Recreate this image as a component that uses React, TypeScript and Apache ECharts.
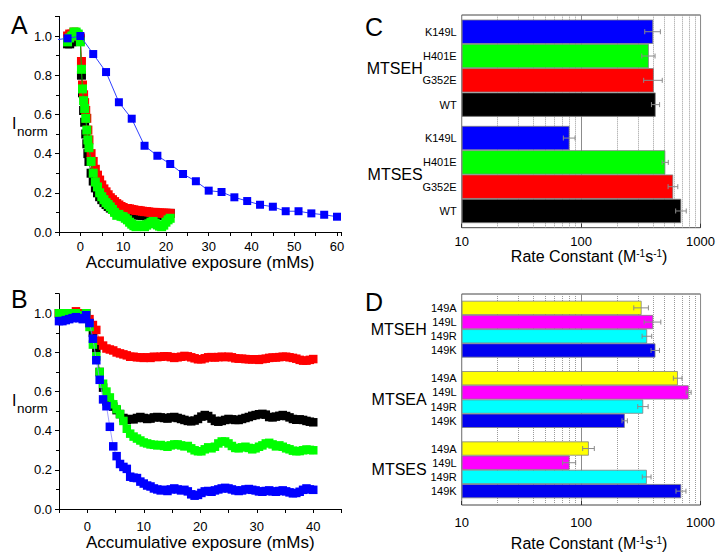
import React, { useEffect, useRef } from 'react';
import * as echarts from 'echarts';

const FONT = '"Liberation Sans", Arial, Helvetica, sans-serif';

// ---------- Panel A ----------
const xA = [-3, -2.5, -2, -1.5, -1, -0.5, 0, 0.25, 0.5, 0.75, 1, 1.25, 1.5, 1.75, 2,
  2.5, 3, 3.5, 4, 4.5, 5, 5.5, 6, 6.5, 7, 7.5, 8, 8.5, 9, 9.5, 10, 10.5, 11, 11.5, 12,
  12.5, 13, 13.5, 14, 14.5, 15, 15.5, 16, 16.5, 17, 17.5, 18, 18.5, 19, 19.5, 20, 20.5, 21];
const redA = [1.0, 1.01, 1.01, 1.02, 1.01, 1.0, 0.99, 0.87, 0.75, 0.7, 0.66, 0.62, 0.58, 0.52, 0.47,
  0.4, 0.36, 0.32, 0.29, 0.265, 0.24, 0.22, 0.205, 0.19, 0.175,
  0.165, 0.155, 0.145, 0.138, 0.13, 0.125, 0.12, 0.12, 0.118, 0.115,
  0.113, 0.11, 0.11, 0.108, 0.106, 0.104, 0.104, 0.102, 0.1, 0.1,
  0.1, 0.098, 0.097, 0.097, 0.096, 0.096, 0.095, 0.095];
const blackA = [0.96, 0.96, 0.97, 0.99, 1.0, 0.99, 0.98, 0.8, 0.71, 0.62, 0.56, 0.5, 0.45, 0.4, 0.36,
  0.3, 0.26, 0.225, 0.2, 0.18, 0.165, 0.15, 0.14, 0.13, 0.122,
  0.115, 0.108, 0.104, 0.1, 0.098, 0.096, 0.095, 0.093, 0.092, 0.09,
  0.089, 0.088, 0.087, 0.086, 0.085, 0.084, 0.082, 0.08, 0.08, 0.082,
  0.084, 0.085, 0.086, 0.088, 0.09, 0.092, 0.094, 0.095];
const greenA = [0.97, 0.99, 1.0, 1.02, 1.02, 1.01, 0.97, 0.83, 0.73, 0.67, 0.63, 0.58, 0.52, 0.47, 0.43,
  0.36, 0.3, 0.255, 0.23, 0.2, 0.18, 0.165, 0.15, 0.14, 0.128,
  0.115, 0.1, 0.085, 0.09, 0.08, 0.078, 0.07, 0.062, 0.05, 0.04,
  0.032, 0.027, 0.03, 0.036, 0.03, 0.027, 0.035, 0.042, 0.05, 0.054,
  0.045, 0.036, 0.03, 0.027, 0.035, 0.05, 0.062, 0.07];
const xBlueA = [-6, -3, 0, 3, 6, 9, 12, 15, 18, 21, 24, 27, 30, 33, 36, 39, 42, 45, 48, 51, 54, 57, 60];
const blueA = [0.98, 0.988, 1.0, 0.908, 0.816, 0.662, 0.578, 0.44, 0.389, 0.347, 0.296, 0.259, 0.211,
  0.204, 0.177, 0.158, 0.139, 0.129, 0.106, 0.106, 0.095, 0.088, 0.078];

// ---------- Panel B ----------
const xB = [-5, -4.4, -3.8, -3.2, -2.6, -2, -1.4, -0.8, -0.2, 0.4,
  1, 1.6, 2.2, 2.8, 3.4, 4, 4.6, 5.2, 5.8, 6.4,
  7, 7.6, 8.2, 8.8, 9.4, 10, 10.6, 11.2, 11.8, 12.4,
  13, 13.6, 14.2, 14.8, 15.4, 16, 16.6, 17.2, 17.8, 18.4,
  19, 19.6, 20.2, 20.8, 21.4, 22, 22.6, 23.2, 23.8, 24.4,
  25, 25.6, 26.2, 26.8, 27.4, 28, 28.6, 29.2, 29.8, 30.4,
  31, 31.6, 32.2, 32.8, 33.4, 34, 34.6, 35.2, 35.8, 36.4,
  37, 37.6, 38.2, 38.8, 39.4, 40];
const redB = [1.0, 1.0, 1.0, 1.0, 1.0, 1.01, 1.0, 1.0, 1.0, 0.97,
  0.94, 0.915, 0.86, 0.835, 0.82, 0.815, 0.81, 0.8, 0.795, 0.79,
  0.785, 0.778, 0.778, 0.775, 0.775, 0.772, 0.775, 0.772, 0.778, 0.776,
  0.778, 0.78, 0.78, 0.776, 0.772, 0.775, 0.778, 0.782, 0.78, 0.775,
  0.77, 0.765, 0.765, 0.77, 0.775, 0.776, 0.774, 0.776, 0.778, 0.776,
  0.778, 0.775, 0.77, 0.768, 0.768, 0.766, 0.765, 0.764, 0.765, 0.762,
  0.766, 0.768, 0.772, 0.774, 0.774, 0.776, 0.778, 0.778, 0.775, 0.772,
  0.768, 0.762, 0.758, 0.758, 0.762, 0.766];
const blackB = [1.0, 1.0, 1.0, 1.0, 1.0, 1.0, 1.0, 1.0, 1.0, 0.95,
  0.9, 0.82, 0.7, 0.62, 0.55, 0.54, 0.523, 0.505, 0.485, 0.465,
  0.455, 0.46, 0.458, 0.465, 0.47, 0.465, 0.46, 0.462, 0.468, 0.47,
  0.468, 0.465, 0.462, 0.468, 0.47, 0.465, 0.46, 0.455, 0.45, 0.448,
  0.452, 0.46, 0.472, 0.48, 0.475, 0.462, 0.45, 0.446, 0.45, 0.455,
  0.46, 0.458, 0.455, 0.455, 0.46, 0.465, 0.47, 0.476, 0.48, 0.484,
  0.486, 0.482, 0.47, 0.468, 0.472, 0.476, 0.48, 0.475, 0.468, 0.46,
  0.456, 0.458, 0.455, 0.45, 0.446, 0.443];
const greenB = [1.0, 1.0, 1.0, 1.0, 1.0, 1.0, 0.99, 0.99, 1.0, 0.93,
  0.84, 0.78, 0.7, 0.64, 0.6, 0.57, 0.535, 0.51, 0.485, 0.45,
  0.41, 0.385, 0.37, 0.36, 0.35, 0.34, 0.335, 0.33, 0.328, 0.325,
  0.327, 0.322, 0.318, 0.325, 0.33, 0.33, 0.325, 0.32, 0.322, 0.31,
  0.3, 0.295, 0.295, 0.305, 0.315, 0.31, 0.318, 0.335, 0.345, 0.345,
  0.335, 0.322, 0.312, 0.31, 0.315, 0.318, 0.312, 0.305, 0.31, 0.318,
  0.325, 0.335, 0.338, 0.33, 0.32, 0.325, 0.318, 0.31, 0.305, 0.298,
  0.295, 0.296, 0.3, 0.304, 0.302, 0.3];
const blueB = [0.96, 0.96, 0.965, 0.97, 0.975, 0.98, 0.975, 0.97, 0.99, 0.95,
  0.87, 0.76, 0.66, 0.56, 0.525, 0.42, 0.32, 0.27, 0.23, 0.215,
  0.205, 0.165, 0.16, 0.158, 0.14, 0.13, 0.12, 0.115, 0.105, 0.1,
  0.095, 0.098, 0.092, 0.1, 0.105, 0.1, 0.095, 0.098, 0.09, 0.075,
  0.068, 0.072, 0.082, 0.09, 0.092, 0.088, 0.095, 0.1, 0.105, 0.108,
  0.105, 0.1, 0.095, 0.092, 0.095, 0.1, 0.102, 0.098, 0.095, 0.09,
  0.088, 0.092, 0.095, 0.09, 0.088, 0.092, 0.095, 0.09, 0.085, 0.08,
  0.082, 0.088, 0.098, 0.105, 0.1, 0.098];

// ---------- Panel C ----------
const catC = ['MTSES', 'MTSEH'];
const mutC = ['K149L', 'H401E', 'G352E', 'WT'];
const colC = ['#0000ff', '#00ff00', '#ff0000', '#000000'];
const valC = [[80, 401], [507, 369], [590, 406], [689, 421]];
const errC = [[9, 60], [30, 47], [55, 72], [70, 33]];

// ---------- Panel D ----------
const catD = ['MTSES', 'MTSEA', 'MTSEH'];
const mutD = ['149A', '149L', '149R', '149K'];
const colD = ['#ffff00', '#ff00ff', '#00ffff', '#0000f0'];
const valD = [[116, 646, 321], [80, 796, 401], [355, 331, 357], [689, 232, 419]];
const errD = [[13, 54, 45], [10, 38, 64], [30, 33, 33], [66, 12, 34]];

const minorGrid = [20, 30, 40, 50, 60, 70, 80, 90, 200, 300, 400, 500, 600, 700, 800, 900];

const pts = (xs: number[], ys: number[]) => xs.map((x, i) => [x, ys[i]]);

const markSeries = (name: string, xs: number[], ys: number[], color: string, axis: number,
  size: number, lineColor: string, lineWidth: number, z: number) => ({
  type: 'line', name, xAxisIndex: axis, yAxisIndex: axis, data: pts(xs, ys),
  symbol: 'rect', symbolSize: size, showSymbol: true, clip: true,
  itemStyle: { color }, lineStyle: { color: lineColor, width: lineWidth }, z,
});

const valueXAxis = (grid: number, max: number, nameGap: number, labelMargin: number) => ({
  type: 'value', gridIndex: grid, min: -5, max, interval: 5,
  axisLine: { show: true, onZero: false, lineStyle: { color: '#000', width: 1 } },
  axisTick: { show: true, length: 4, lineStyle: { color: '#000' } },
  axisLabel: {
    fontSize: 13, fontFamily: FONT, color: '#000', margin: labelMargin,
    formatter: (v: number) => (Math.round(v) % 10 === 0 && Math.abs(v - Math.round(v)) < 1e-6 ? String(Math.round(v)) : ''),
  },
  splitLine: { show: false },
  name: 'Accumulative exposure (mMs)', nameLocation: 'middle', nameGap,
  nameTextStyle: { fontSize: 17, fontFamily: FONT, color: '#000' },
});

const valueYAxis = (grid: number) => ({
  type: 'value', gridIndex: grid, min: 0, max: 1.1, interval: 0.2,
  axisLine: { show: true, onZero: false, lineStyle: { color: '#000', width: 1 } },
  axisTick: { show: true, length: 4, lineStyle: { color: '#000' } },
  minorTick: { show: true, splitNumber: 2, length: 3, lineStyle: { color: '#000' } },
  axisLabel: {
    fontSize: 13, fontFamily: FONT, color: '#000', margin: 7,
    formatter: (v: number) => (Math.round(v * 10) % 2 === 0 ? v.toFixed(1) : ''),
  },
  splitLine: { show: false },
});

const logXAxis = (grid: number, labelMargin: number, nameGap: number) => ({
  type: 'log', logBase: 10, gridIndex: grid, min: 10, max: 1000, startValue: 10,
  axisLine: { show: false },
  axisTick: { show: true, inside: true, length: 4, lineStyle: { color: '#333' } },
  axisLabel: { fontSize: 13, fontFamily: FONT, color: '#000', margin: labelMargin, formatter: (v: number) => String(Math.round(v)) },
  splitLine: { show: true, lineStyle: { color: '#8c8c8c', width: 1 } },
  name: 'Rate Constant (M{sup|-1}s{sup|-1})', nameLocation: 'middle', nameGap,
  nameTextStyle: {
    fontSize: 16, fontFamily: FONT, color: '#000', padding: [0, 0, 0, 16],
    rich: { sup: { fontSize: 10, fontFamily: FONT, color: '#000', verticalAlign: 'top', lineHeight: 10 } },
  },
});

const catYAxis = (grid: number, data: string[], margin: number) => ({
  type: 'category', gridIndex: grid, data,
  axisLine: { show: false }, axisTick: { show: false },
  axisLabel: { fontSize: 16, fontFamily: FONT, color: '#000', margin },
  splitLine: { show: false },
});

const barSeries = (name: string, vals: number[], color: string, axis: number, barW: number, withGrid: boolean) => ({
  type: 'bar', name, xAxisIndex: axis, yAxisIndex: axis, data: vals, barWidth: barW, barGap: '0%',
  itemStyle: { color, borderColor: '#808080', borderWidth: 0.8 }, z: 2,
  ...(withGrid ? {
    markLine: {
      silent: true, symbol: ['none', 'none'], z: 1, animation: false,
      label: { show: false },
      lineStyle: { type: 'dotted', color: '#9a9a9a', width: 1 },
      data: minorGrid.map((v) => ({ xAxis: v })),
    },
  } : {}),
});

const errSeries = (name: string, vals: number[], errs: number[], k: number, n: number, axis: number, barW: number) => ({
  type: 'custom', name: name + ' err', xAxisIndex: axis, yAxisIndex: axis, z: 6, silent: true, clip: false,
  encode: { x: 0, y: 1 },
  data: vals.map((v, c) => [v, c, errs[c]]),
  renderItem: (params: any, api: any) => {
    const v = api.value(0), c = api.value(1), e = api.value(2);
    const mid = api.coord([v, c]);
    const y = mid[1] + (k - (n - 1) / 2) * barW;
    const xl = api.coord([v - e, c])[0];
    const xr = api.coord([v + e, c])[0];
    const x0 = api.coord([10, c])[0];
    const st = { stroke: '#8a8a8a', lineWidth: 1 };
    return {
      type: 'group',
      children: [
        { type: 'line', shape: { x1: xl, y1: y, x2: xr, y2: y }, style: st },
        { type: 'line', shape: { x1: xl, y1: y - 2.5, x2: xl, y2: y + 2.5 }, style: st },
        { type: 'line', shape: { x1: xr, y1: y - 2.5, x2: xr, y2: y + 2.5 }, style: st },
        { type: 'text', x: x0 - 5, y, style: { text: name, fontSize: 11, fontFamily: FONT, fill: '#000', align: 'right', verticalAlign: 'middle' } },
      ],
    };
  },
});

const BAR_C = 24.3;
const BAR_D = 14.2;

export default function App() {
  const ref = useRef<HTMLDivElement>(null);
  useEffect(() => {
    if (!ref.current) return;
    const chart = echarts.init(ref.current, null, { renderer: 'svg' });
    const letter = (t: string, left: number, top: number) => ({
      type: 'text', left, top, style: { text: t, fontSize: 25, fontFamily: FONT, fill: '#000' },
    });
    const inorm = (top: number) => ([
      { type: 'text', left: 12, top, style: { text: 'I', fontSize: 16, fontFamily: FONT, fill: '#000' } },
      { type: 'text', left: 17, top: top + 9, style: { text: 'norm', fontSize: 13.5, fontFamily: FONT, fill: '#000' } },
    ]);
    const option: any = {
      animation: false,
      backgroundColor: '#ffffff',
      textStyle: { fontFamily: FONT },
      grid: [
        { left: 59, top: 16.4, width: 282.3, height: 215.6 },
        { left: 59, top: 293.7, width: 282.5, height: 215.3 },
        { left: 461.7, top: 15, width: 241.3, height: 212.7, show: true, borderColor: '#444', borderWidth: 1, backgroundColor: 'transparent' },
        { left: 461.7, top: 294, width: 241.3, height: 211, show: true, borderColor: '#444', borderWidth: 1, backgroundColor: 'transparent' },
      ],
      xAxis: [
        valueXAxis(0, 61, 17, 8),
        valueXAxis(1, 45, 24, 11),
        logXAxis(2, 7, 19),
        logXAxis(3, 11, 30),
      ],
      yAxis: [
        valueYAxis(0),
        valueYAxis(1),
        catYAxis(2, catC, 39),
        catYAxis(3, catD, 35),
      ],
      graphic: [
        letter('A', 11, 12.5),
        letter('B', 11, 286),
        letter('C', 365, 14),
        letter('D', 365, 289),
        ...inorm(115),
        ...inorm(392),
      ],
      series: [
        markSeries('WT', xA, blackA, '#000000', 0, 9, '#000000', 0.8, 3),
        markSeries('G352E', xA, redA, '#ff0000', 0, 9, '#ff0000', 0.8, 3),
        markSeries('H401E', xA, greenA, '#00ff00', 0, 9, '#00c000', 1, 4),
        markSeries('K149L', xBlueA, blueA, '#0000ff', 0, 8, '#3040ff', 1, 5),
        markSeries('WT', xB, blackB, '#000000', 1, 8.5, '#000000', 0.6, 3),
        markSeries('G352E', xB, redB, '#ff0000', 1, 8.5, '#ff0000', 0.6, 3),
        markSeries('H401E', xB, greenB, '#00ff00', 1, 8.5, '#00c000', 0.6, 4),
        markSeries('K149L', xB, blueB, '#0000ff', 1, 8.5, '#8a8aff', 0.8, 5),
        ...mutC.map((m, k) => barSeries(m, valC[k], colC[k], 2, BAR_C, k === 0)),
        ...mutC.map((m, k) => errSeries(m, valC[k], errC[k], k, mutC.length, 2, BAR_C)),
        ...mutD.map((m, k) => barSeries(m, valD[k], colD[k], 3, BAR_D, k === 0)),
        ...mutD.map((m, k) => errSeries(m, valD[k], errD[k], k, mutD.length, 3, BAR_D)),
      ],
    };
    chart.setOption(option);
    return () => chart.dispose();
  }, []);
  return (
    <div
      ref={ref}
      style={{ position: 'absolute', left: 0, top: 0, width: 718, height: 553, background: '#fff' }}
    />
  );
}
